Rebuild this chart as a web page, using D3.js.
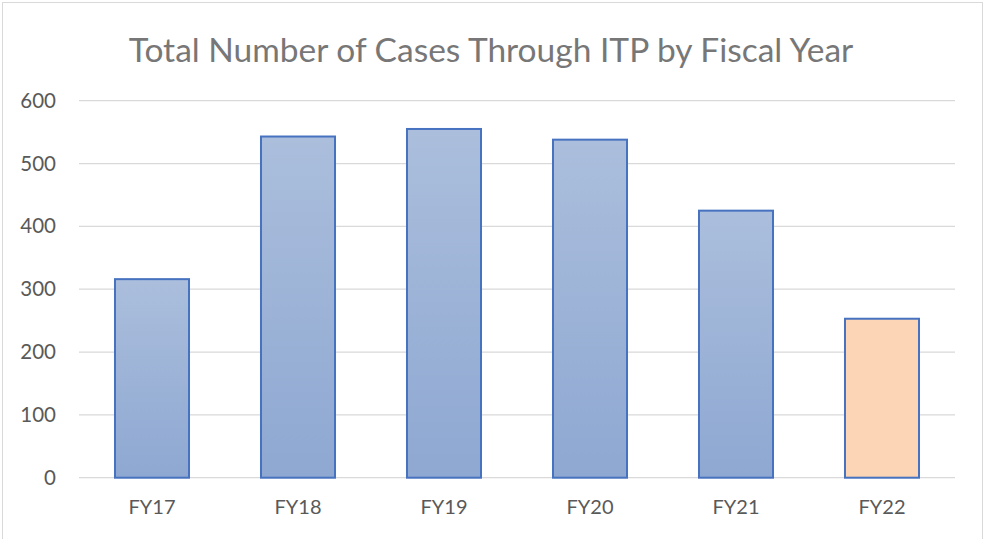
<!DOCTYPE html>
<html>
<head>
<meta charset="utf-8">
<script src="https://cdn.jsdelivr.net/npm/d3@7"></script>
<style>
  body { margin: 0; background: #fff; }
  text { font-family: Lato, "Open Sans", sans-serif; fill: #595959; }
</style>
</head>
<body>
<svg id="chart" width="984" height="539"></svg>
<script>
// chart data
var years = ["FY17", "FY18", "FY19", "FY20", "FY21", "FY22"];
var cases = [316, 543, 555, 538, 425, 253];
var yTicks = [0, 100, 200, 300, 400, 500, 600];

var width = 984, height = 539;
var margin = {top: 100.7, right: 29, bottom: 61.3, left: 79};

var svg = d3.select("#chart");

// outer chart border, like the exported picture
svg.append("rect")
    .attr("x", 2.5).attr("y", 2.5)
    .attr("width", width - 4).attr("height", height)
    .attr("fill", "#fff")
    .attr("stroke", "#d9d9d9");

var defs = svg.append("defs");
var grad = defs.append("linearGradient")
    .attr("id", "barFill")
    .attr("x1", 0).attr("y1", 0).attr("x2", 0).attr("y2", 1);
grad.append("stop").attr("offset", "0%").attr("stop-color", "#abbedc");
grad.append("stop").attr("offset", "100%").attr("stop-color", "#8ea8d2");

var x = d3.scaleBand()
    .domain(years)
    .range([margin.left, width - margin.right])
    .paddingInner(0.493)
    .paddingOuter(0.2465);

var y = d3.scaleLinear()
    .domain([0, 600])
    .range([height - margin.bottom, margin.top]);

// gridlines
svg.append("g")
    .selectAll("line")
    .data(yTicks)
    .enter()
    .append("line")
    .attr("x1", margin.left)
    .attr("x2", width - margin.right)
    .attr("y1", function(d){ return y(d); })
    .attr("y2", function(d){ return y(d); })
    .attr("stroke", "#d9d9d9")
    .attr("stroke-width", 1.3);

// y axis labels
var yAxis = svg.append("g")
    .attr("transform", "translate(" + (margin.left - 23) + ",0)")
    .call(d3.axisLeft(y).tickValues(yTicks).tickSize(0).tickPadding(0));
yAxis.select(".domain").remove();
yAxis.selectAll("text")
    .style("font-family", "Lato, 'Open Sans', sans-serif")
    .style("font-size", "20.5px")
    .attr("fill", "#595959");

// bars
svg.append("g")
    .selectAll("rect")
    .data(cases)
    .enter()
    .append("rect")
    .attr("x", function(d, i){ return x(years[i]); })
    .attr("y", function(d){ return y(d); })
    .attr("width", x.bandwidth())
    .attr("height", function(d){ return y(0) - y(d); })
    .attr("fill", function(d, i){ return years[i] == "FY22" ? "#fbd5b5" : "url(#barFill)"; })
    .attr("stroke", "#4672c0")
    .attr("stroke-width", 2);

// x axis labels
var xAxis = svg.append("g")
    .attr("transform", "translate(0," + (height - margin.bottom) + ")")
    .call(d3.axisBottom(x).tickSize(0).tickPadding(22));
xAxis.select(".domain").remove();
xAxis.selectAll("text")
    .style("font-family", "Lato, 'Open Sans', sans-serif")
    .style("font-size", "20px")
    .attr("fill", "#595959");

// title
svg.append("text")
    .attr("x", 491)
    .attr("y", 62)
    .attr("text-anchor", "middle")
    .style("font-size", "33.5px")
    .style("fill", "#777777")
    .text("Total Number of Cases Through ITP by Fiscal Year");
</script>
</body>
</html>
